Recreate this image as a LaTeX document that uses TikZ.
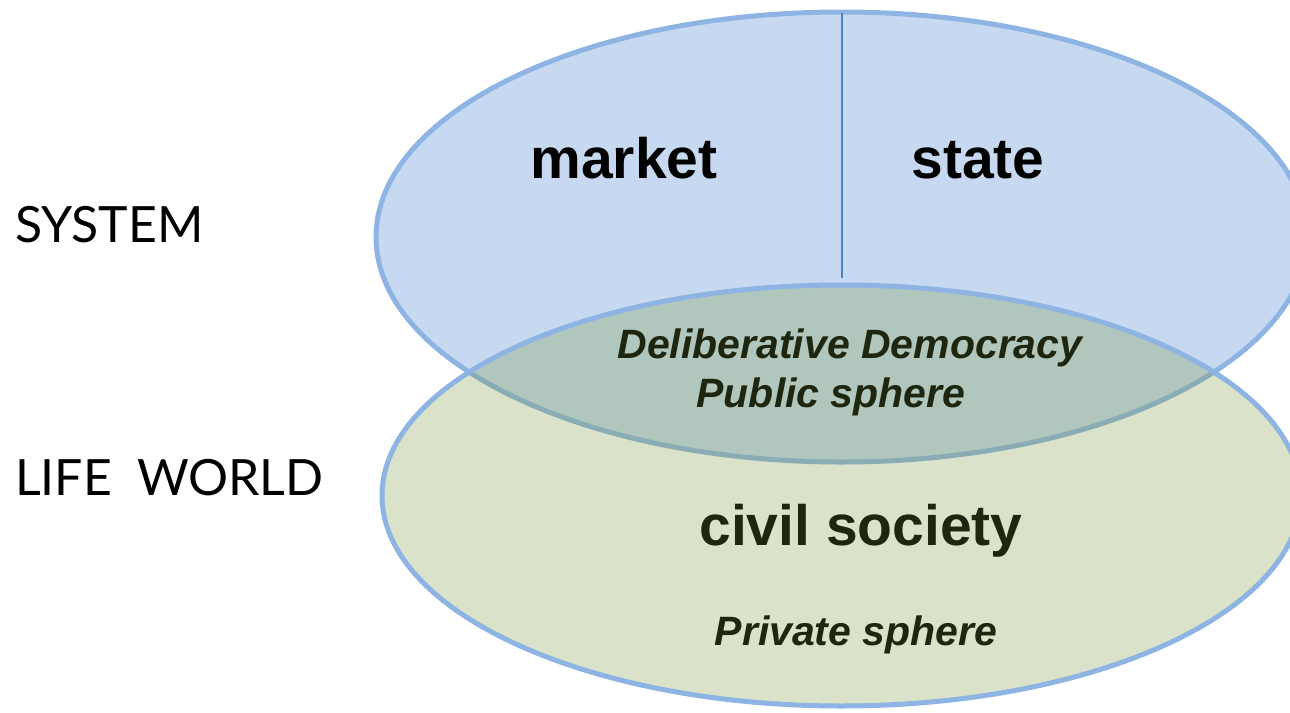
\documentclass[tikz,border=0pt]{standalone}
\usepackage{fontspec}
\newfontfamily\arial{Liberation Sans}
\newfontfamily\gill{Lato}
\definecolor{sysfill}{RGB}{198,217,240}
\definecolor{edgeblue}{RGB}{142,180,227}
\definecolor{divline}{RGB}{79,129,189}
\definecolor{lifefill}{RGB}{131,158,75}
\definecolor{olivetext}{RGB}{30,38,16}
\tikzset{
  bigword/.style={anchor=base, inner sep=0pt, font=\arial\bfseries\fontsize{57}{60}\selectfont},
  itword/.style={anchor=base, inner sep=0pt, text=olivetext, font=\arial\bfseries\itshape\fontsize{41}{44}\selectfont},
  sidelabel/.style={anchor=base west, inner sep=0pt, font=\gill\fontsize{50}{54}\selectfont},
  ring/.style={draw=edgeblue, line width=5pt},
}
\begin{document}
\begin{tikzpicture}[x=1pt,y=-1pt]
\useasboundingbox (0,0) rectangle (1290,712);
\clip (0,0) rectangle (1290,712);
% system ellipse
\draw[ring, fill=sysfill] (841.5,237) ellipse [x radius=465.5, y radius=225];
\draw[divline, line width=2.5pt] (842,13) -- (842,278);
% life world ellipse
\draw[ring, fill=lifefill, fill opacity=0.3] (841.5,495.5) ellipse [x radius=459.5, y radius=210.5];
% labels
\node[bigword] (market) at (624,178) {market};
\node[bigword] (state) at (978,178) {state};
\node[itword] (delib) at (850,358) {Deliberative Democracy};
\node[itword] (public) at (831,407) {Public sphere};
\node[bigword, text=olivetext] (civil) at (861,545) {civil society};
\node[itword] (private) at (856,645) {Private sphere};
\node[sidelabel] (system) at (15,242) {SYSTEM};
\node[sidelabel] (life) at (15,495) {LIFE\hspace{0.5em}WORLD};
\end{tikzpicture}
\end{document}
